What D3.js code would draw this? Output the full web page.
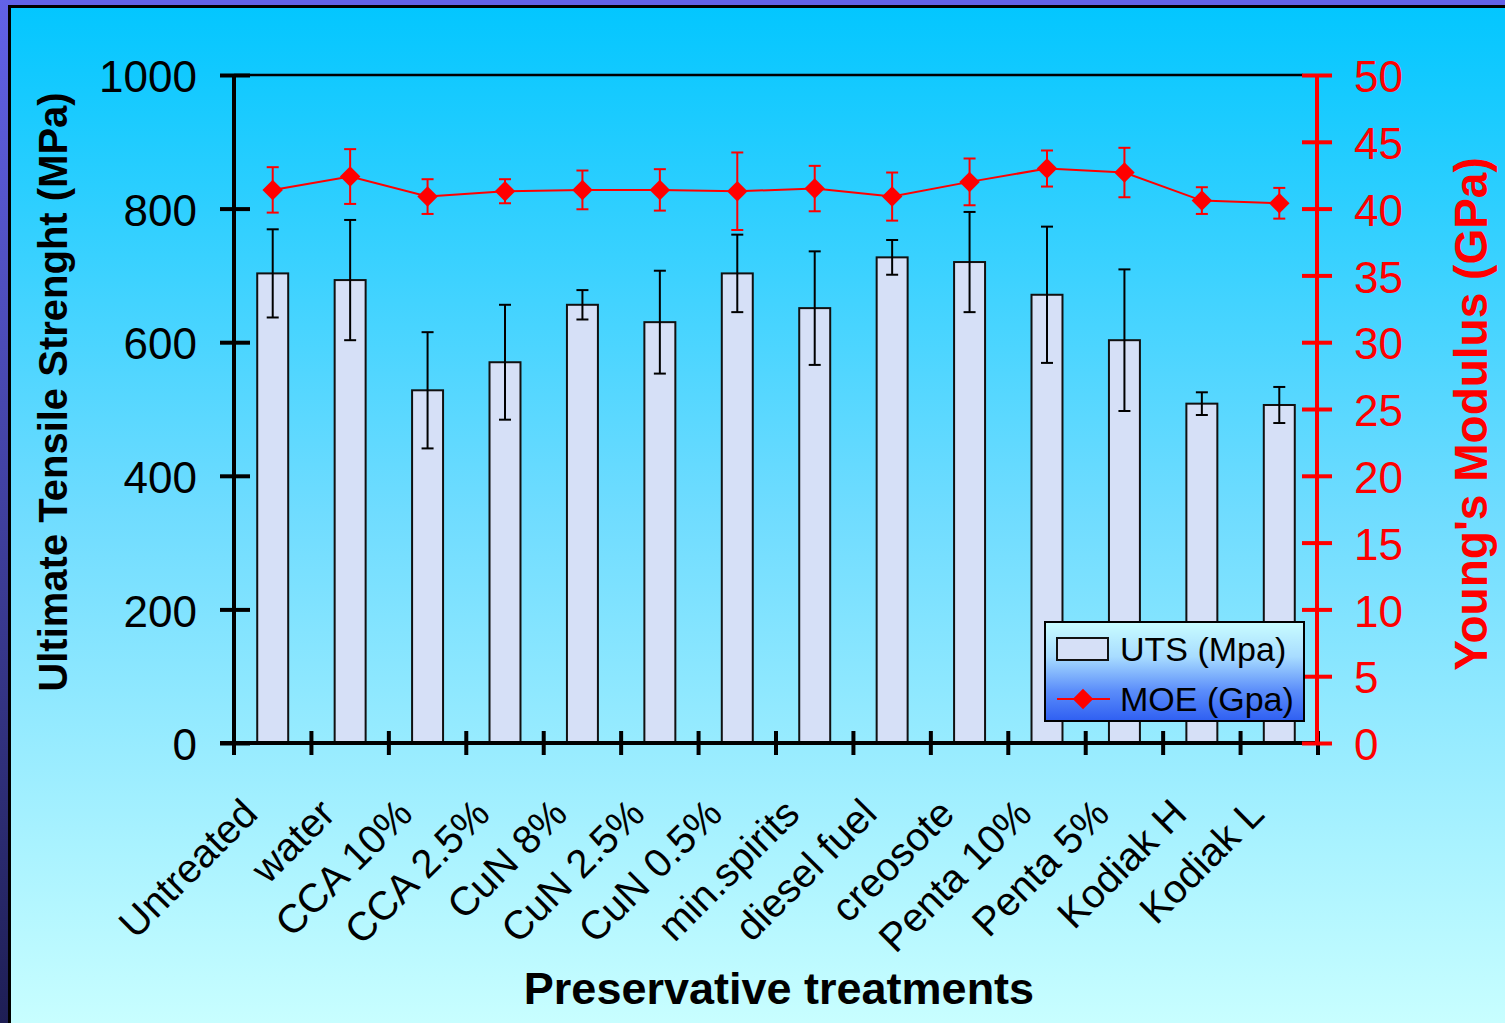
<!DOCTYPE html>
<html><head><meta charset="utf-8">
<script src="https://cdn.jsdelivr.net/npm/d3@7"></script>
<style>
body{margin:0;background:#fff}
svg{display:block}
text{font-family:"Liberation Sans",Arial,Helvetica,sans-serif}
</style>
</head><body>
<svg id="chart" width="1505" height="1023"></svg>
<script>
const categories = ["Untreated","water","CCA 10%","CCA 2.5%","CuN 8%","CuN 2.5%","CuN 0.5%","min.spirits","diesel fuel","creosote","Penta 10%","Penta 5%","Kodiak H","Kodiak L"];
const utsValues = [703, 693, 528, 570, 656, 630, 703, 651, 727, 720, 671, 603, 508, 506];
const utsErrors = [66, 90, 87, 86, 22, 77, 58, 85, 26, 75, 102, 106, 17, 27];
const moeValues = [41.4, 42.4, 40.9, 41.3, 41.4, 41.4, 41.3, 41.5, 40.9, 42.0, 43.0, 42.7, 40.6, 40.4];
const moeErrors = [1.7, 2.05, 1.3, 0.9, 1.45, 1.55, 2.9, 1.7, 1.8, 1.75, 1.35, 1.85, 1.0, 1.15];
const utsTicks = [0, 200, 400, 600, 800, 1000];
const moeTicks = [0, 5, 10, 15, 20, 25, 30, 35, 40, 45, 50];
const seriesNames = ["UTS (Mpa)", "MOE (Gpa)"];

const W = 1505, H = 1023;
const svg = d3.select("#chart");
const defs = svg.append("defs");

const bg = defs.append("linearGradient").attr("id","bg").attr("x1",0).attr("y1",0).attr("x2",0).attr("y2",1);
bg.append("stop").attr("offset","0%").attr("stop-color","#02c6ff");
bg.append("stop").attr("offset","50%").attr("stop-color","#6fdcff");
bg.append("stop").attr("offset","100%").attr("stop-color","#c8feff");

const side = defs.append("linearGradient").attr("id","side").attr("x1",0).attr("y1",0).attr("x2",0).attr("y2",1);
side.append("stop").attr("offset","0%").attr("stop-color","#6262e8");
side.append("stop").attr("offset","100%").attr("stop-color","#1e1e55");

const leg = defs.append("linearGradient").attr("id","leg").attr("x1",0).attr("y1",0).attr("x2",0).attr("y2",1);
leg.append("stop").attr("offset","0%").attr("stop-color","#c9fdff");
leg.append("stop").attr("offset","35%").attr("stop-color","#a8dcff");
leg.append("stop").attr("offset","70%").attr("stop-color","#5a8cfa");
leg.append("stop").attr("offset","100%").attr("stop-color","#2f5ff2");

// background + frame
svg.append("rect").attr("x",0).attr("y",0).attr("width",W).attr("height",H).attr("fill","url(#bg)");
svg.append("rect").attr("x",0).attr("y",0).attr("width",W).attr("height",5).attr("fill","#6262e8");
svg.append("rect").attr("x",0).attr("y",5).attr("width",W).attr("height",3).attr("fill","#000");
svg.append("rect").attr("x",0).attr("y",0).attr("width",8).attr("height",H).attr("fill","url(#side)");
svg.append("rect").attr("x",8).attr("y",5).attr("width",3).attr("height",H).attr("fill","#000");

const pLeft = 234, pRight = 1318, pTop = 75, pBottom = 743;
const x = d3.scaleBand().domain(categories).range([pLeft, pRight]).paddingInner(0.6).paddingOuter(0.3);
const xc = d3.scaleBand().domain(categories).range([pLeft, pRight]);
const yL = d3.scaleLinear().domain([0, 1000]).range([pBottom, pTop]);
const yR = d3.scaleLinear().domain([0, 50]).range([pBottom, pTop]);
const cxOf = c => xc(c) + xc.bandwidth()/2;

// top frame line
svg.append("line").attr("x1",pLeft).attr("x2",1303).attr("y1",pTop).attr("y2",pTop).attr("stroke","#000").attr("stroke-width",2.5);

// bars
svg.append("g").selectAll("rect").data(categories).join("rect")
  .attr("x", d => x(d)).attr("width", x.bandwidth())
  .attr("y", (d,i) => yL(utsValues[i])).attr("height", (d,i) => pBottom - yL(utsValues[i]))
  .attr("fill","#d6e0f7").attr("stroke","#111").attr("stroke-width",2);

// UTS error bars
const eb = svg.append("g").attr("stroke","#000").attr("stroke-width",2);
categories.forEach((c,i) => {
  const cx = cxOf(c);
  const y1 = yL(utsValues[i] + utsErrors[i]), y2 = yL(utsValues[i] - utsErrors[i]);
  eb.append("line").attr("x1",cx).attr("x2",cx).attr("y1",y1).attr("y2",y2);
  eb.append("line").attr("x1",cx-6).attr("x2",cx+6).attr("y1",y1).attr("y2",y1);
  eb.append("line").attr("x1",cx-6).attr("x2",cx+6).attr("y1",y2).attr("y2",y2);
});

// MOE error bars
const er = svg.append("g").attr("stroke","#ff0000").attr("stroke-width",2);
categories.forEach((c,i) => {
  const cx = cxOf(c);
  const y1 = yR(moeValues[i] + moeErrors[i]), y2 = yR(moeValues[i] - moeErrors[i]);
  er.append("line").attr("x1",cx).attr("x2",cx).attr("y1",y1).attr("y2",y2);
  er.append("line").attr("x1",cx-6).attr("x2",cx+6).attr("y1",y1).attr("y2",y1);
  er.append("line").attr("x1",cx-6).attr("x2",cx+6).attr("y1",y2).attr("y2",y2);
});

// MOE line + markers
const line = d3.line().x((d,i) => cxOf(categories[i])).y(d => yR(d));
svg.append("path").datum(moeValues).attr("d", line).attr("fill","none").attr("stroke","#ff0000").attr("stroke-width",2);
const diamondPath = d3.symbol().type(d3.symbolSquare).size(210)();
svg.append("g").selectAll("path").data(moeValues).join("path")
  .attr("transform",(d,i) => `translate(${cxOf(categories[i])},${yR(d)}) rotate(45)`)
  .attr("d", diamondPath).attr("fill","#ff0000");

// Left axis
const gL = svg.append("g").attr("transform",`translate(${pLeft},0)`)
  .call(d3.axisLeft(yL).tickValues(utsTicks).tickSize(12).tickPadding(0).tickFormat(d3.format("d")));
gL.select(".domain").attr("stroke","#000").attr("stroke-width",4).attr("d",`M0,${pTop}V${pBottom}`);
gL.selectAll(".tick line").attr("stroke","#000").attr("stroke-width",4).attr("x1",-14).attr("x2",16);
gL.selectAll(".tick text").attr("x",-37).attr("dy","0.38em").attr("font-size",44).attr("fill","#000")
  .attr("font-family","Liberation Sans, Arial, sans-serif");

// X axis
const gX = svg.append("g").attr("transform",`translate(0,${pBottom})`)
  .call(d3.axisBottom(xc).tickSize(0).tickFormat(""));
gX.select(".domain").attr("stroke","#000").attr("stroke-width",4).attr("d",`M${pLeft-14},0H${pRight}`);
gX.selectAll(".tick").remove();
const boundaries = categories.map(c => xc(c)).concat([pRight]);
gX.selectAll("line.bt").data(boundaries).join("line").attr("class","bt")
  .attr("x1",d=>d).attr("x2",d=>d).attr("y1",-12).attr("y2",12).attr("stroke","#000").attr("stroke-width",4);

// category labels
svg.append("g").selectAll("text").data(categories).join("text")
  .attr("transform", d => `translate(${cxOf(d) - 13},${816}) rotate(-45)`)
  .attr("text-anchor","end").attr("font-size",40).attr("fill","#000").text(d => d);

// Right axis
const gR = svg.append("g").attr("transform",`translate(${pRight-1},0)`)
  .call(d3.axisRight(yR).tickValues(moeTicks).tickSize(14).tickPadding(0));
gR.select(".domain").attr("stroke","#ff0000").attr("stroke-width",4).attr("d",`M0,${pTop}V${pBottom}`);
gR.selectAll(".tick line").attr("stroke","#ff0000").attr("stroke-width",4).attr("x1",-15).attr("x2",15);
gR.selectAll(".tick text").attr("x",37).attr("dy","0.38em").attr("font-size",44).attr("fill","#ff0000")
  .attr("font-family","Liberation Sans, Arial, sans-serif");

// Titles
svg.append("text").attr("transform","translate(67,392) rotate(-90)").attr("text-anchor","middle")
  .attr("font-size",40).attr("font-weight","bold").attr("fill","#000").text("Ultimate Tensile Strenght (MPa)");
svg.append("text").attr("transform","translate(1487,414) rotate(-90)").attr("text-anchor","middle")
  .attr("font-size",46).attr("font-weight","bold").attr("fill","#ff0000").text("Young's Modulus (GPa)");
svg.append("text").attr("x",779).attr("y",1004).attr("text-anchor","middle")
  .attr("font-size",45).attr("font-weight","bold").attr("fill","#000").text("Preservative treatments");

// Legend
const lg = svg.append("g");
lg.append("rect").attr("x",1045).attr("y",622).attr("width",259).attr("height",99)
  .attr("fill","url(#leg)").attr("stroke","#000").attr("stroke-width",2);
lg.append("rect").attr("x",1057).attr("y",638).attr("width",51).attr("height",22)
  .attr("fill","#d6e0f7").attr("stroke","#111").attr("stroke-width",2);
lg.append("text").attr("x",1120).attr("y",661).attr("font-size",34).attr("fill","#000").text(seriesNames[0]);
lg.append("line").attr("x1",1057).attr("x2",1110).attr("y1",699).attr("y2",699).attr("stroke","#ff0000").attr("stroke-width",2);
lg.append("path").attr("transform","translate(1083,699) rotate(45)").attr("d", diamondPath).attr("fill","#ff0000");
lg.append("text").attr("x",1120).attr("y",711).attr("font-size",34).attr("fill","#000").text(seriesNames[1]);
</script>
</body></html>
